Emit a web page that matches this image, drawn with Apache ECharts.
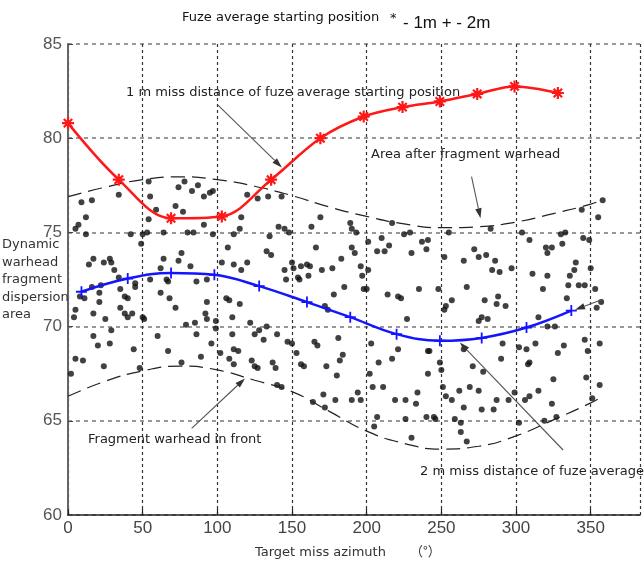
<!DOCTYPE html>
<html>
<head>
<meta charset="utf-8">
<script src="https://cdn.jsdelivr.net/npm/echarts@6/dist/echarts.min.js"></script>
<style>
  html, body { margin: 0; padding: 0; background: #fff; }
  #chart { width: 644px; height: 562px; }
</style>
</head>
<body>
<div id="chart"></div>
<script>
// Azimuth axis ticks and value axis ticks
const azimuthTicks = [0, 50, 100, 150, 200, 250, 300, 350];
const angleTicks = [60, 65, 70, 75, 80, 85];

// Fuze average starting position, 1 m miss distance (red, asterisk markers)
const oneMeterAz = [0, 34, 69, 103, 136, 169, 198, 224, 249, 274, 299, 328];
const oneMeterVal = [80.8, 77.8, 75.75, 75.85, 77.8, 80.0, 81.15, 81.65, 81.95, 82.35, 82.75, 82.4];

// Fuze average starting position, 2 m miss distance (blue, plus markers)
const twoMeterAz = [9, 40, 69, 98, 128, 160, 189, 220, 249, 277, 307, 337];
const twoMeterVal = [71.85, 72.55, 72.85, 72.75, 72.15, 71.3, 70.5, 69.6, 69.25, 69.4, 69.95, 70.85];

// Boundaries of the dynamic fragment dispersion area
const boundAz = [0, 25, 50, 75, 100, 125, 150, 175, 200, 225, 250, 275, 300, 325, 350, 358];
const rearBound = [76.9, 77.4, 77.8, 77.95, 77.8, 77.45, 76.95, 76.35, 75.85, 75.45, 75.25, 75.3, 75.55, 76.0, 76.5, 76.75];
const frontBound = [66.3, 67.1, 67.65, 67.9, 67.7, 67.15, 66.55, 65.5, 64.45, 63.8, 63.5, 63.65, 64.2, 65.05, 65.95, 66.3];

// Individual fragment hits [azimuth, angle]
const fragments = [
  [54,77.7],[78,77.7],[74,77.4],[87,77.5],[83,77.2],[97,77.2],[95,77.1],[34,77.0],[55,76.9],[91,76.9],
  [9,76.6],[16,76.7],[72,76.4],[59,76.2],[77,76.1],[12,75.8],[54,75.7],[91,75.4],[116,75.8],[7,75.4],
  [5,75.2],[115,75.2],[64,75.0],[80,75.0],[84,75.0],[42,74.9],[50,74.9],[53,75.0],[12,74.9],[97,74.9],
  [111,74.9],[49,74.4],[107,74.2],[76,73.9],[17,73.6],[24,73.4],[28,73.6],[29,73.4],[31,73.0],[14,73.3],
  [64,73.6],[74,73.5],[103,73.4],[111,73.3],[82,73.2],[62,73.1],[116,73.0],[34,72.6],[45,72.3],[45,72.1],
  [55,72.5],[66,72.5],[67,72.4],[86,72.4],[93,72.5],[22,72.2],[16,72.1],[21,71.8],[35,72.0],[38,71.6],
  [40,71.5],[8,71.6],[11,71.5],[21,71.3],[62,71.8],[68,71.5],[93,71.3],[106,71.5],[108,71.4],[115,71.2],
  [35,71.0],[38,70.7],[40,70.5],[43,70.7],[50,70.5],[51,70.4],[17,70.7],[5,70.9],[25,70.4],[4,70.5],
  [72,71.0],[92,70.7],[93,70.4],[99,70.3],[110,70.5],[79,70.1],[85,70.2],[29,69.8],[86,69.6],[99,69.9],
  [17,69.5],[60,69.5],[110,69.6],[20,69.0],[28,69.1],[44,68.8],[67,68.7],[89,68.4],[96,69.1],[102,68.6],
  [111,68.8],[114,68.7],[5,68.3],[10,68.2],[24,67.9],[76,68.1],[48,67.8],[108,68.3],[111,68.0],[2,67.5],
  [120,77.0],[127,76.8],[134,76.9],[143,76.9],[169,75.8],[163,75.3],[189,75.5],[190,75.2],[193,75.0],[141,75.3],
  [145,75.2],[148,75.0],[217,75.5],[225,74.9],[229,75.0],[135,74.8],[237,74.5],[241,74.6],[240,74.1],[201,74.5],
  [210,74.7],[215,74.3],[207,74.0],[212,74.0],[230,73.9],[166,74.2],[190,74.2],[192,73.9],[183,73.6],[133,74.0],
  [136,73.8],[120,73.4],[150,73.4],[151,73.1],[156,73.2],[160,73.3],[162,73.2],[161,72.7],[154,72.6],[155,72.5],
  [170,73.0],[177,73.1],[196,73.2],[201,73.0],[145,73.0],[146,72.5],[197,72.7],[200,72.0],[198,72.0],[185,72.1],
  [178,71.7],[172,71.1],[174,70.9],[214,71.7],[221,71.6],[223,71.5],[235,72.0],[227,70.4],[122,70.2],[128,69.8],
  [133,70.0],[125,69.6],[131,69.3],[140,69.6],[147,69.2],[150,69.1],[165,69.2],[167,69.0],[181,69.4],[203,69.1],
  [221,68.8],[241,68.7],[153,68.6],[156,68.0],[158,67.9],[184,68.5],[182,68.2],[173,67.9],[180,67.4],[123,68.2],
  [127,67.8],[125,67.9],[137,68.1],[139,67.8],[202,67.5],[208,68.1],[217,68.3],[241,67.5],[204,66.8],[211,66.8],
  [234,66.5],[140,66.9],[143,66.8],[164,66.0],[171,66.4],[172,65.7],[179,66.1],[190,66.1],[194,66.5],[196,66.1],
  [219,66.1],[226,66.1],[233,65.9],[207,65.2],[205,64.7],[226,65.1],[240,65.2],[230,64.1],
  [283,75.2],[255,75.0],[304,75.0],[309,74.6],[330,74.9],[333,75.0],[345,74.7],[349,74.6],[331,74.4],[355,75.8],
  [344,76.2],[358,76.7],[320,74.2],[324,74.2],[321,73.9],[252,73.7],[265,73.5],[272,74.1],[275,73.7],[280,73.8],
  [286,73.5],[284,73.0],[289,72.9],[297,73.1],[311,72.8],[321,72.7],[340,73.4],[339,73.0],[336,72.7],[350,73.1],
  [267,72.1],[248,72.0],[318,72.0],[335,72.2],[342,72.2],[346,72.2],[353,72.0],[334,71.5],[357,71.3],[354,71.0],
  [257,71.4],[253,71.1],[252,70.9],[279,71.4],[288,71.6],[287,71.2],[293,71.1],[277,70.5],[281,70.4],[275,70.3],
  [321,70.0],[326,70.0],[315,70.5],[242,68.7],[249,68.1],[250,67.7],[265,68.8],[271,67.9],[278,67.6],[290,68.3],
  [291,69.1],[302,68.9],[307,68.8],[313,69.1],[309,68.1],[308,68.0],[328,68.6],[332,69.0],[346,69.3],[356,69.1],
  [348,68.7],[325,67.2],[347,67.3],[356,66.9],[251,66.8],[253,66.3],[257,66.1],[262,66.6],[269,66.8],[275,66.6],
  [265,65.7],[277,65.6],[285,65.6],[287,66.1],[295,66.1],[299,66.5],[306,66.1],[309,66.3],[315,66.6],[324,65.9],
  [351,66.2],[245,65.2],[246,65.1],[259,65.1],[263,64.4],[267,63.9],[263,64.9],[319,65.0],[327,65.2],[302,64.9]
];

const pair = (xs, ys) => xs.map((x, i) => [x, ys[i]]);

const chart = echarts.init(document.getElementById('chart'), null, { renderer: 'canvas' });

const labelFont = 'DejaVu Sans';
const tickFont = 'Liberation Sans';

// 8-spoke asterisk used as the marker on the 1 m curve
const asteriskPath = 'path://M0,-6L0,6M-6,0L6,0M-4.2,-4.2L4.2,4.2M-4.2,4.2L4.2,-4.2';
const plusPath = 'path://M0,-6L0,6M-6,0L6,0';

chart.setOption({
  animation: false,
  backgroundColor: '#ffffff',
  grid: { left: 68, right: 4, top: 44, bottom: 47 },
  xAxis: {
    type: 'value',
    min: azimuthTicks[0],
    max: 383,
    interval: 50,
    axisLine: { lineStyle: { color: '#222', width: 1.5 } },
    axisTick: { inside: true, length: 6, lineStyle: { color: '#222', width: 1.2 } },
    axisLabel: {
      color: '#444', fontFamily: tickFont, fontSize: 17, margin: 5,
      showMaxLabel: false,
      formatter: v => (azimuthTicks.indexOf(v) >= 0 ? String(v) : '')
    },
    splitLine: { show: true, lineStyle: { color: '#333', width: 1.2, type: [3, 3] } }
  },
  yAxis: {
    type: 'value',
    min: angleTicks[0],
    max: angleTicks[angleTicks.length - 1],
    interval: 5,
    axisLine: { show: true, lineStyle: { color: '#666', width: 2 } },
    axisTick: { show: true, inside: true, length: 5, lineStyle: { color: '#444' } },
    axisLabel: { color: '#555', fontFamily: tickFont, fontSize: 17, margin: 6 },
    splitLine: { show: true, lineStyle: { color: '#777', width: 1.5, type: [4, 4] } }
  },
  series: [
    {
      name: 'fragments',
      type: 'scatter',
      data: fragments,
      symbol: 'circle',
      symbolSize: 6,
      itemStyle: { color: '#111' },
      z: 2
    },
    {
      name: 'rear boundary',
      type: 'line',
      data: pair(boundAz, rearBound),
      smooth: true,
      showSymbol: false,
      lineStyle: { color: '#222', width: 1.2, type: [14, 7] },
      z: 3
    },
    {
      name: 'front boundary',
      type: 'line',
      data: pair(boundAz, frontBound),
      smooth: true,
      showSymbol: false,
      lineStyle: { color: '#222', width: 1.2, type: [14, 7] },
      z: 3
    },
    {
      name: '2m',
      type: 'line',
      data: pair(twoMeterAz, twoMeterVal),
      smooth: 0.4,
      symbol: plusPath,
      symbolSize: 11,
      itemStyle: { color: 'none', borderColor: '#1414ff', borderWidth: 1.8 },
      lineStyle: { color: '#1414ff', width: 2.5 },
      z: 4
    },
    {
      name: '1m',
      type: 'line',
      data: pair(oneMeterAz, oneMeterVal),
      smooth: 0.35,
      symbol: asteriskPath,
      symbolSize: 12,
      itemStyle: { color: 'none', borderColor: '#ff1818', borderWidth: 2.2 },
      lineStyle: { color: '#ff1818', width: 2.5 },
      z: 5
    }
  ]
});

// Annotation arrows, given in [azimuth, angle] coordinates: [tail, head]
const arrows = [
  [[100.4, 81.76], [143.2, 78.45]],
  [[270.2, 77.96], [276.2, 75.75]],
  [[82.8, 64.6], [118.5, 67.25]],
  [[331.5, 63.45], [262.4, 69.15]],
  [[358.1, 71.45], [339.5, 70.9]]
];

function arrowGraphic(from, to) {
  const p0 = chart.convertToPixel({ gridIndex: 0 }, from);
  const p1 = chart.convertToPixel({ gridIndex: 0 }, to);
  const ang = Math.atan2(p1[1] - p0[1], p1[0] - p0[0]);
  const len = 10, half = 3.2;
  const bx = p1[0] - len * Math.cos(ang), by = p1[1] - len * Math.sin(ang);
  return [
    { type: 'line', silent: true, z: 10,
      shape: { x1: p0[0], y1: p0[1], x2: bx, y2: by },
      style: { stroke: '#555', lineWidth: 1.1 } },
    { type: 'polygon', silent: true, z: 10,
      shape: { points: [p1,
        [bx - half * Math.sin(ang), by + half * Math.cos(ang)],
        [bx + half * Math.sin(ang), by - half * Math.cos(ang)]] },
      style: { fill: '#333' } }
  ];
}

function label(text, x, y, size, family, color) {
  return {
    type: 'text', silent: true, z: 11, x: x, y: y,
    style: {
      text: text, fill: color || '#222',
      font: size + 'px "' + (family || labelFont) + '"',
      verticalAlign: 'middle', align: 'left'
    }
  };
}

const graphics = [];
arrows.forEach(a => graphics.push(...arrowGraphic(a[0], a[1])));

graphics.push(
  label('Fuze average starting position', 182, 18, 13, labelFont, '#111'),
  label('*', 390, 19, 13, labelFont, '#111'),
  label('- 1m + - 2m', 403, 23, 17, 'Liberation Sans', '#111'),
  label('1 m miss distance of fuze average starting position', 126, 93, 13),
  label('Area after fragment warhead', 371, 155, 13),
  label('Fragment warhead in front', 88, 440, 13),
  label('2 m miss distance of fuze average starting position', 420, 472, 13),
  label('Dynamic', 2, 245, 13, labelFont, '#333'),
  label('warhead', 2, 262.5, 13, labelFont, '#333'),
  label('fragment', 2, 280, 13, labelFont, '#333'),
  label('dispersion', 2, 297.5, 13, labelFont, '#333'),
  label('area', 2, 315, 13, labelFont, '#333'),
  label('Target miss azimuth', 255, 553, 13, labelFont, '#333'),
  label('（°）', 410, 551, 13, 'Noto Sans CJK SC', '#333')
);

chart.setOption({ graphic: { elements: graphics } });
</script>
</body>
</html>
